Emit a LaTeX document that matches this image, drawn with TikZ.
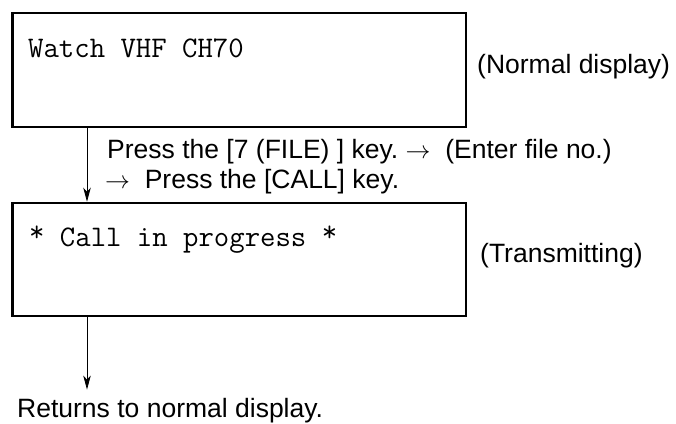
\documentclass[tikz,border=0pt]{standalone}
\usepackage{fontspec}
\setmainfont{Liberation Sans}
\usepackage{tikz}
\usetikzlibrary{
	arrows.meta,
	positioning
}
\newcommand{\lcdstar}{\raisebox{5pt}{*}}

\begin{document}
\begin{tikzpicture}[x=1pt, y=-1pt,
		disp/.style={draw, line width=2.6pt, minimum width=453.6pt, inner sep=0pt},
		lcd/.style={font=\fontsize{29.9}{32}\selectfont\ttfamily, inner sep=0pt, anchor=base west},
		note/.style={font=\fontsize{26.5}{30}\selectfont, inner sep=0pt, anchor=base west},
		flow/.style={-{Stealth[length=14pt, width=7.5pt, inset=4pt]}, line width=0.8pt}]
			\useasboundingbox (0,0) rectangle (676,423);
			\node[disp, minimum height=114pt] (normal) at (239,70) {};
			\node[lcd] (normaltext) at (28,57) {Watch VHF CH70};
			\node[note] (normallabel) at (477,73) {(Normal display)};
			\node[disp, minimum height=113pt] (calling) at (239,259.5) {};
			\node[lcd] (callingtext) at (29,246) {\lcdstar{} Call in progress \lcdstar};
			\node[note] (callinglabel) at (480,262) {(Transmitting)};
			\node[note] (stepone) at (107,158) {Press the [7 (FILE) ] key.~$\rightarrow$~~(Enter file no.)};
			\node[note] (steptwo) at (105,188) {$\rightarrow$~~Press the [CALL] key.};
			\node[note] (back) at (17,417) {Returns to normal display.};
			\coordinate (axis) at (87,0);
			\draw[flow] (axis |- normal.south) -- (axis |- calling.north);
			\draw[flow, shorten >=8pt] (axis |- calling.south) -- (axis |- back.north);
		\end{tikzpicture}
\end{document}
